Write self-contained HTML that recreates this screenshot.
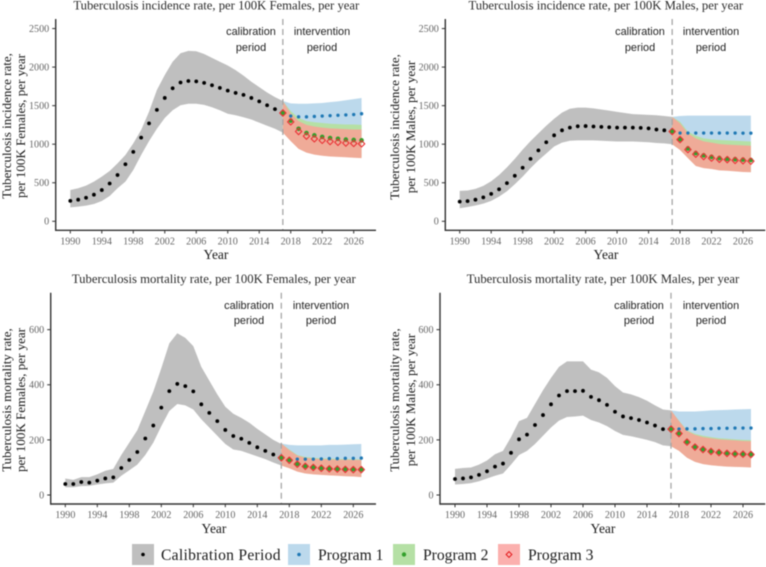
<!DOCTYPE html>
<html lang="en">
<head>
<meta charset="utf-8">
<title>Tuberculosis incidence and mortality rates</title>
<style>
html,body{margin:0;padding:0;background:#fff;width:766px;height:567px;overflow:hidden}
svg{display:block;filter:blur(.45px)}
text{font-family:"Liberation Serif",serif}
.title{font-size:12.7px;fill:#2b2b2b;text-anchor:middle}
.ylab{font-size:13px;fill:#1a1a1a;text-anchor:middle}
.xlab{font-size:13.5px;fill:#1a1a1a;text-anchor:middle}
.note{font-family:"Liberation Sans",sans-serif;font-size:10.9px;fill:#222;text-anchor:middle}
.legend{font-size:15.6px;fill:#1a1a1a}
.tick{font-size:10.1px;fill:#666}
</style>
</head>
<body>
<svg id="chart" width="766" height="567" viewBox="0 0 766 567" xmlns="http://www.w3.org/2000/svg">
  <g id="p0"></g>
  <g id="p1"></g>
  <g id="p2"></g>
  <g id="p3"></g>

  <text class="title" x="216.3" y="9.5">Tuberculosis incidence rate, per 100K Females, per year</text>
  <text class="title" x="605.8" y="9.5">Tuberculosis incidence rate, per 100K Males, per year</text>
  <text class="title" x="213.8" y="283">Tuberculosis mortality rate, per 100K Females, per year</text>
  <text class="title" x="603" y="283">Tuberculosis mortality rate, per 100K Males, per year</text>

  <text class="ylab" transform="translate(11,126) rotate(-90)">Tuberculosis incidence rate,</text>
  <text class="ylab" transform="translate(25,126) rotate(-90)">per 100K Females, per year</text>
  <text class="ylab" transform="translate(399,127) rotate(-90)">Tuberculosis incidence rate,</text>
  <text class="ylab" transform="translate(415,127) rotate(-90)">per 100K Males, per year</text>
  <text class="ylab" transform="translate(11,400) rotate(-90)">Tuberculosis mortality rate,</text>
  <text class="ylab" transform="translate(25,400) rotate(-90)">per 100K Females, per year</text>
  <text class="ylab" transform="translate(399,400) rotate(-90)">Tuberculosis mortality rate,</text>
  <text class="ylab" transform="translate(415,400) rotate(-90)">per 100K Males, per year</text>

  <text class="xlab" x="216" y="259">Year</text>
  <text class="xlab" x="606" y="259">Year</text>
  <text class="xlab" x="214" y="533">Year</text>
  <text class="xlab" x="603" y="533">Year</text>

  <g>
    <text class="note" x="251" y="35">calibration</text><text class="note" x="251" y="51">period</text>
    <text class="note" x="322" y="35">intervention</text><text class="note" x="322" y="51">period</text>
  </g>
  <g>
    <text class="note" x="640" y="35">calibration</text><text class="note" x="640" y="51">period</text>
    <text class="note" x="711" y="35">intervention</text><text class="note" x="711" y="51">period</text>
  </g>
  <g>
    <text class="note" x="249" y="309">calibration</text><text class="note" x="249" y="324">period</text>
    <text class="note" x="321" y="309">intervention</text><text class="note" x="321" y="324">period</text>
  </g>
  <g>
    <text class="note" x="639" y="309">calibration</text><text class="note" x="639" y="324">period</text>
    <text class="note" x="711" y="309">intervention</text><text class="note" x="711" y="324">period</text>
  </g>

  <g>
    <g>
      <rect x="132" y="544" width="22" height="21" fill="#bfbfbf"/><circle cx="143" cy="554.5" r="1.8" fill="#000"/>
      <text class="legend" x="161" y="560" textLength="119.5">Calibration Period</text>
    </g>
    <g>
      <rect x="288" y="544" width="22" height="21" fill="#bcd9ec"/><circle cx="299" cy="554.5" r="1.8" fill="#1f78b4"/>
      <text class="legend" x="318" y="560">Program 1</text>
    </g>
    <g>
      <rect x="393" y="544" width="22" height="21" fill="#b5e0a5"/><circle cx="404" cy="554.5" r="2.2" fill="#33a02c"/>
      <text class="legend" x="423" y="560">Program 2</text>
    </g>
    <g>
      <rect x="498" y="544" width="22" height="21" fill="#fbb0ae"/><path d="M509 551.6L511.9 554.5L509 557.4L506.1 554.5Z" fill="none" stroke="#e31a1c" stroke-width="1"/>
      <text class="legend" x="528" y="560">Program 3</text>
    </g>
  </g>
</svg>

<script>
// Shared axis values
const calibrationYears = [1990,1991,1992,1993,1994,1995,1996,1997,1998,1999,2000,2001,2002,2003,2004,2005,2006,2007,2008,2009,2010,2011,2012,2013,2014,2015,2016,2017];
const programYears = [2017,2018,2019,2020,2021,2022,2023,2024,2025,2026,2027];
const xTickYears = [1990,1994,1998,2002,2006,2010,2014,2018,2022,2026];
const incidenceTicks = [0,500,1000,1500,2000,2500];
const mortalityTicks = [0,200,400,600];
const interventionStart = 2017;

// Incidence, females
const incFMean = [265,280,305,345,405,490,600,740,900,1085,1270,1445,1600,1725,1800,1820,1815,1795,1765,1730,1695,1665,1640,1600,1555,1505,1455,1405];
const incFUpper = [406,428,462,514,579,652,752,860,1011,1184,1421,1703,1897,2070,2180,2210,2205,2170,2120,2070,2020,1960,1890,1810,1740,1670,1610,1560];
const incFLower = [181,190,203,224,263,328,428,514,665,860,1040,1200,1340,1440,1505,1525,1525,1510,1480,1440,1395,1375,1350,1320,1280,1240,1200,1150];
const incFP1 = [1405,1365,1355,1355,1360,1365,1370,1375,1380,1385,1395];
const incFP1Upper = [1560,1530,1525,1525,1530,1535,1545,1555,1570,1585,1600];
const incFP1Lower = [1150,1120,1100,1100,1100,1100,1100,1100,1100,1100,1100];
const incFP2 = [1405,1305,1200,1145,1115,1095,1080,1070,1060,1055,1050];
const incFP2Upper = [1560,1430,1340,1300,1285,1275,1265,1260,1255,1255,1250];
const incFP2Lower = [1150,1050,950,900,875,860,850,845,840,835,830];
const incFP3 = [1405,1290,1165,1105,1070,1050,1035,1025,1015,1010,1005];
const incFP3Upper = [1560,1400,1300,1250,1230,1215,1205,1200,1195,1190,1190];
const incFP3Lower = [1150,1040,940,890,865,850,840,835,830,825,820];

// Incidence, males
const incMMean = [255,262,280,310,355,415,495,590,695,810,920,1025,1115,1180,1215,1232,1235,1230,1225,1220,1215,1215,1215,1212,1205,1190,1180,1165];
const incMUpper = [395,400,420,460,520,600,700,810,930,1040,1140,1240,1330,1410,1460,1475,1475,1465,1450,1435,1420,1405,1390,1385,1380,1375,1365,1355];
const incMLower = [170,185,205,230,265,320,390,480,580,690,790,880,970,1020,1045,1050,1050,1050,1045,1040,1035,1035,1035,1030,1025,1015,1010,1000];
const incMP1 = [1165,1145,1145,1145,1145,1145,1145,1145,1145,1143,1143];
const incMP1Upper = [1355,1365,1370,1370,1370,1370,1370,1370,1370,1370,1370];
const incMP1Lower = [1000,950,900,880,870,860,860,860,860,860,860];
const incMP2 = [1165,1065,945,885,855,835,820,810,805,800,795];
const incMP2Upper = [1355,1292,1162,1110,1076,1063,1054,1050,1045,1040,1035];
const incMP2Lower = [1000,930,825,722,695,682,665,660,652,645,640];
const incMP3 = [1165,1060,930,870,840,820,805,800,790,785,780];
const incMP3Upper = [1355,1270,1140,1076,1037,1020,1003,995,990,985,980];
const incMP3Lower = [1000,925,820,717,690,678,661,655,648,640,636];

// Mortality, females
const morFMean = [40,40,47,45,52,60,64,98,127,156,205,252,317,377,403,395,376,329,298,268,236,214,204,189,173,160,147,135];
const morFUpper = [60,55,65,65,75,88,95,145,190,235,305,375,460,550,587,570,540,465,415,365,320,295,280,262,240,220,200,185];
const morFLower = [28,28,32,33,38,42,45,70,90,110,145,190,250,305,330,325,310,275,245,215,185,165,160,150,140,130,118,107];
const morFP1 = [135,130,130,130,130,131,132,132,133,133,134];
const morFP1Upper = [187,182,180,180,180,180,182,182,183,184,185];
const morFP1Lower = [107,100,95,92,90,90,90,90,90,90,90];
const morFP2 = [135,127,113,105,101,98,96,95,94,94,93];
const morFP2Upper = [187,165,145,138,135,133,132,131,130,130,129];
const morFP2Lower = [107,98,86,79,76,74,72,71,69,68,66];
const morFP3 = [135,126,112,104,100,97,95,94,93,92,92];
const morFP3Upper = [187,163,143,135,132,130,129,128,128,127,127];
const morFP3Lower = [107,97,85,78,75,73,71,70,68,67,65];

// Mortality, males
const morMMean = [58,60,64,73,86,103,114,153,202,219,254,290,329,361,377,377,378,356,344,327,302,285,279,272,263,252,239,240];
const morMUpper = [95,98,100,110,125,148,160,210,268,280,330,380,425,465,485,485,485,455,445,425,395,372,365,355,342,325,310,307];
const morMLower = [38,40,43,50,60,70,78,110,145,160,185,215,245,270,283,285,288,272,263,250,232,218,213,207,200,192,180,177];
const morMP1 = [239,239,240,240,241,241,242,242,243,243,243];
const morMP1Upper = [307,303,303,303,305,307,308,309,310,311,312];
const morMP1Lower = [177,170,160,150,150,150,150,150,150,150,150];
const morMP2 = [240,224,193,175,166,159,155,152,150,149,148];
const morMP2Upper = [307,270,235,222,215,210,206,204,202,200,199];
const morMP2Lower = [177,161,136,121,113,109,106,104,103,102,101];
const morMP3 = [239,223,192,174,165,158,154,151,149,148,147];
const morMP3Upper = [307,268,232,218,210,206,202,200,198,196,195];
const morMP3Lower = [177,160,135,120,112,108,105,103,102,101,100];

const NS = 'http://www.w3.org/2000/svg';
const COLORS = {grey:'#bfbfbf', blue:'#bcd9ec', green:'#b5e0a5', red:'#efab98',
  dotBlue:'#1f78b4', dotGreen:'#33a02c', dotRed:'#ea3236'};

function make(tag, attrs, parent) {
  const el = document.createElementNS(NS, tag);
  for (const k in attrs) el.setAttribute(k, attrs[k]);
  parent.appendChild(el);
  return el;
}

function band(parent, xs, upper, lower, sx, sy, fill, name) {
  let d = '';
  xs.forEach((x, i) => { d += (i ? 'L' : 'M') + sx(x).toFixed(2) + ' ' + sy(upper[i]).toFixed(2); });
  for (let i = xs.length - 1; i >= 0; i--) d += 'L' + sx(xs[i]).toFixed(2) + ' ' + sy(lower[i]).toFixed(2);
  const el = make('path', {d: d + 'Z', fill: fill}, parent);
  
  
}

function dots(parent, xs, values, sx, sy, r, fill, name) {
  xs.forEach((x, i) => {
    const el = make('circle', {cx: sx(x).toFixed(2), cy: sy(values[i]).toFixed(2), r: r, fill: fill}, parent);
    
    
  });
}

function diamonds(parent, xs, values, sx, sy, r, stroke, name) {
  xs.forEach((x, i) => {
    const cx = sx(x), cy = sy(values[i]);
    const d = 'M' + cx + ' ' + (cy - r) + 'L' + (cx + r) + ' ' + cy + 'L' + cx + ' ' + (cy + r) + 'L' + (cx - r) + ' ' + cy + 'Z';
    const el = make('path', {d: d, fill: 'none', stroke: stroke, 'stroke-width': 1.1, 'stroke-linejoin': 'round'}, parent);
    
    
  });
}

function drawPanel(p) {
  const g = document.getElementById(p.id);
  const sx = y => p.x1990 + (y - 1990) * (p.x2026 - p.x1990) / 36;
  const sy = v => p.y0 - v * p.pxPerUnit;

  band(g, calibrationYears, p.upper, p.lower, sx, sy, COLORS.grey, 'calibration-band');
  band(g, programYears, p.p1U, p.p1L, sx, sy, COLORS.blue, 'program-1-band');
  band(g, programYears, p.p2U, p.p2L, sx, sy, COLORS.green, 'program-2-band');
  band(g, programYears, p.p3U, p.p3L, sx, sy, COLORS.red, 'program-3-band');

  const dash = make('line', {x1: sx(interventionStart), x2: sx(interventionStart), y1: p.top, y2: p.bottom, stroke: '#a6a6a6', 'stroke-width': 1.3, 'stroke-dasharray': '6 4'}, g);
  
  

  const axisY = make('line', {x1: p.left, x2: p.left, y1: p.top, y2: p.bottom + 0.7, stroke: '#333', 'stroke-width': 1.4}, g);
  
  
  const axisX = make('line', {x1: p.left, x2: p.right, y1: p.bottom, y2: p.bottom, stroke: '#333', 'stroke-width': 1.4}, g);
  
  

  xTickYears.forEach(y => {
    const tk = make('line', {x1: sx(y), x2: sx(y), y1: p.bottom, y2: p.bottom + 3.2, stroke: '#333', 'stroke-width': 1}, g);
    
    
    const t = make('text', {x: sx(y), y: p.bottom + 14, 'text-anchor': 'middle', class: 'tick'}, g);
    t.textContent = y;
    
    
  });
  p.ticks.forEach(v => {
    const tk = make('line', {x1: p.left - 3.5, x2: p.left, y1: sy(v), y2: sy(v), stroke: '#333', 'stroke-width': 1}, g);
    
    
    const t = make('text', {x: p.left - 6.5, y: sy(v) + 3.4, 'text-anchor': 'end', class: 'tick'}, g);
    t.textContent = v;
    
    
  });

  dots(g, calibrationYears, p.mean, sx, sy, 1.9, '#000', 'calibration-point');
  dots(g, programYears, p.p1, sx, sy, 1.7, COLORS.dotBlue, 'program-1-point');
  dots(g, programYears, p.p2, sx, sy, 2.3, COLORS.dotGreen, 'program-2-point');
  diamonds(g, programYears, p.p3, sx, sy, 3.2, COLORS.dotRed, 'program-3-point');
}

drawPanel({id:'p0', x1990:70.3, x2026:353.7, left:55.7, right:376, top:19, bottom:230.3, y0:221.3, pxPerUnit:0.0771, ticks:incidenceTicks,
  mean:incFMean, upper:incFUpper, lower:incFLower, p1:incFP1, p1U:incFP1Upper, p1L:incFP1Lower, p2:incFP2, p2U:incFP2Upper, p2L:incFP2Lower, p3:incFP3, p3U:incFP3Upper, p3L:incFP3Lower});
drawPanel({id:'p1', x1990:459.7, x2026:743, left:445.3, right:765.3, top:19, bottom:230.3, y0:221.3, pxPerUnit:0.0771, ticks:incidenceTicks,
  mean:incMMean, upper:incMUpper, lower:incMLower, p1:incMP1, p1U:incMP1Upper, p1L:incMP1Lower, p2:incMP2, p2U:incMP2Upper, p2L:incMP2Lower, p3:incMP3, p3U:incMP3Upper, p3L:incMP3Lower});
drawPanel({id:'p2', x1990:65.3, x2026:353.3, left:50.7, right:376, top:292.7, bottom:504, y0:495, pxPerUnit:0.2756, ticks:mortalityTicks,
  mean:morFMean, upper:morFUpper, lower:morFLower, p1:morFP1, p1U:morFP1Upper, p1L:morFP1Lower, p2:morFP2, p2U:morFP2Upper, p2L:morFP2Lower, p3:morFP3, p3U:morFP3Upper, p3L:morFP3Lower});
drawPanel({id:'p3', x1990:455, x2026:743, left:440, right:765.3, top:292.7, bottom:504, y0:495, pxPerUnit:0.2756, ticks:mortalityTicks,
  mean:morMMean, upper:morMUpper, lower:morMLower, p1:morMP1, p1U:morMP1Upper, p1L:morMP1Lower, p2:morMP2, p2U:morMP2Upper, p2L:morMP2Lower, p3:morMP3, p3U:morMP3Upper, p3L:morMP3Lower});
</script>
</body>
</html>
